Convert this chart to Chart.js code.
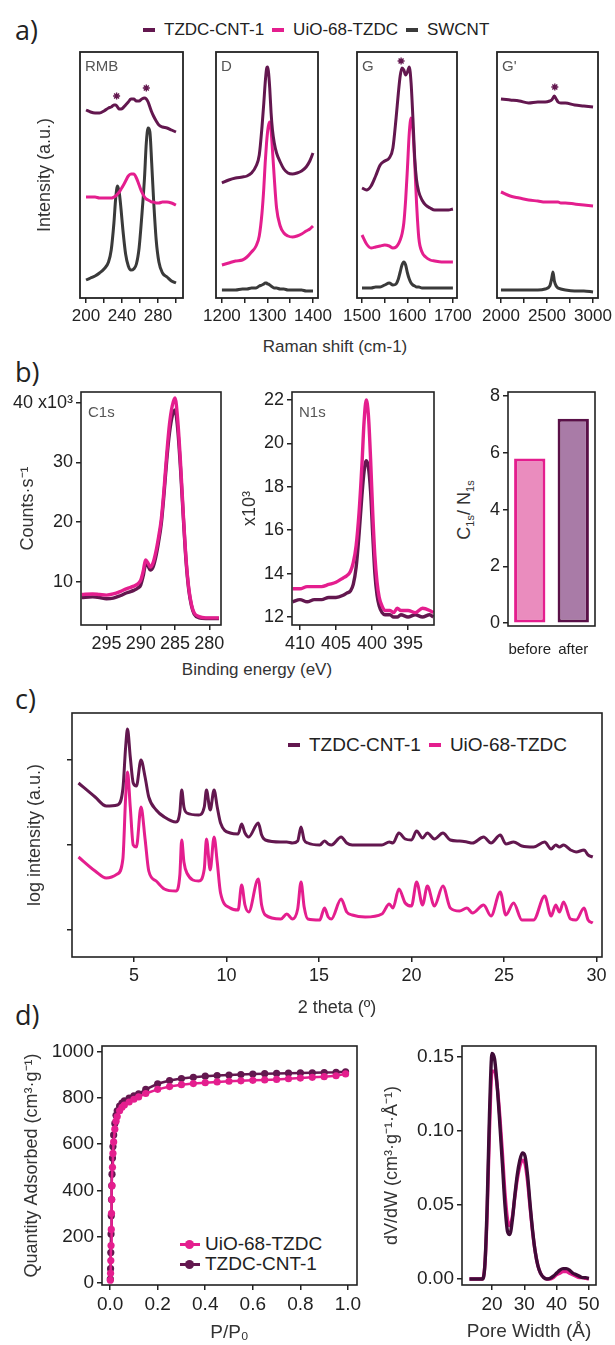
<!DOCTYPE html>
<html>
<head>
<meta charset="utf-8">
<script src="https://cdn.jsdelivr.net/npm/chart.js@4.4.1/dist/chart.umd.min.js"></script>
<style>
  html, body { margin: 0; padding: 0; background: #fff; }
  body { position: relative; width: 615px; height: 1345px; overflow: hidden;
         font-family: 'Liberation Sans', Arial, sans-serif; color: #222; }
  canvas { position: absolute; }
  .panel { position: absolute; left: 15px; font: 27px/1 'Open Sans', sans-serif; color: #222; }
  .txt { position: absolute; white-space: nowrap; transform: translate(-50%, -50%); color: #333; }
  .rot { transform: translate(-50%, -50%) rotate(-90deg); }
  .legend { position: absolute; display: flex; align-items: center; white-space: nowrap; color: #222; }
  .sw { display: inline-block; width: 12px; height: 4px; margin-right: 9px; }
  .item { margin-right: 8px; }
  .row { position: absolute; display: flex; align-items: center; white-space: nowrap; font-size: 19px; }
  .ln { position: relative; width: 20px; height: 3px; margin-right: 5px; }
  .ln i { position: absolute; left: 5px; top: -3px; width: 9px; height: 9px; border-radius: 50%; background: inherit; }
  sub { font-size: 11px; }
</style>
</head>
<body>
<div class="panel" style="top:16px">a)</div>
<div class="panel" style="top:358px">b)</div>
<div class="panel" style="top:685px">c)</div>
<div class="panel" style="top:1001px">d)</div>

<div class="legend" style="left:143px; top:20px; font-size:17px; line-height:20px">
  <span class="sw" style="background:#63174f"></span><span class="item">TZDC-CNT-1</span>
  <span class="sw" style="background:#e41e8e"></span><span class="item">UiO-68-TZDC</span>
  <span class="sw" style="background:#3a3a3a"></span><span>SWCNT</span>
</div>
<div class="txt" style="left:335px; top:347px; font-size:17px">Raman shift (cm-1)</div>
<div class="txt" style="left:257px; top:670px; font-size:17px">Binding energy (eV)</div>
<div class="txt rot" style="left:465px; top:510px; font-size:18px">C<sub>1s</sub>/ N<sub>1s</sub></div>
<div class="legend" style="left:288px; top:735px; font-size:19px; line-height:20px">
  <span class="sw" style="background:#63174f"></span><span class="item">TZDC-CNT-1</span>
  <span class="sw" style="background:#e41e8e"></span><span>UiO-68-TZDC</span>
</div>
<div class="row" style="left:180px; top:1233px"><span class="ln" style="background:#e41e8e"><i></i></span>UiO-68-TZDC</div>
<div class="row" style="left:180px; top:1253px"><span class="ln" style="background:#63174f"><i></i></span>TZDC-CNT-1</div>

<canvas id="cRMB"></canvas>
<canvas id="cD"></canvas>
<canvas id="cG"></canvas>
<canvas id="cGp"></canvas>
<canvas id="cC1s"></canvas>
<canvas id="cN1s"></canvas>
<canvas id="cBar"></canvas>
<canvas id="cXRD"></canvas>
<canvas id="cIso"></canvas>
<canvas id="cPore"></canvas>

<script>
// ── a) Raman (offset intensities, a.u.) ───────────────
const rmbShift  = [200, 205, 210, 215, 220, 225, 228, 231, 233, 235, 237, 239, 241, 244, 247, 250, 253, 256, 259, 262, 265, 267, 269, 271, 273, 275, 278, 281, 285, 290, 295, 300];
const rmbTZDC   = [188, 186, 185, 185, 187, 190, 191, 193, 193, 191, 189, 189, 190, 193, 196, 199, 199, 197, 197, 199, 200, 199, 196, 191, 186, 182, 177, 173, 171, 170, 168, 166];
const rmbUiO    = [101, 101, 101, 100, 100, 100, 100, 101, 102, 104, 106, 109, 112, 117, 122, 124, 124, 120, 113, 106, 101, 99, 98, 97, 96, 96, 95, 95, 96, 96, 95, 93];
const rmbSWCNT  = [18, 20, 22, 25, 29, 36, 48, 75, 100, 112, 105, 88, 68, 44, 32, 28, 29, 34, 50, 82, 120, 155, 170, 166, 135, 100, 58, 36, 25, 21, 17, 15];
const rmbStarX  = [234, 267];
const rmbStarY  = [202, 210];

const dShift    = [1200, 1215, 1230, 1245, 1255, 1265, 1275, 1282, 1288, 1292, 1295, 1298, 1300, 1302, 1305, 1308, 1311, 1315, 1320, 1328, 1336, 1345, 1355, 1365, 1375, 1385, 1393, 1400];
const dTZDC     = [115, 118, 120, 121, 122, 125, 132, 143, 171, 195, 215, 229, 231, 227, 210, 185, 168, 155, 145, 136, 129, 125, 124, 125, 127, 131, 137, 145];
const dUiO      = [33, 35, 37, 38, 41, 46, 52, 62, 85, 110, 135, 155, 165, 172, 176, 168, 148, 120, 90, 72, 65, 62, 61, 62, 64, 67, 69, 72];
const dSWCNT    = [8, 8, 8, 9, 9, 10, 10, 12, 13, 14, 15, 15, 14, 14, 13, 12, 11, 10, 10, 9, 9, 8, 8, 8, 8, 7, 7, 7];

const gShift    = [1500, 1510, 1520, 1530, 1540, 1550, 1560, 1568, 1575, 1580, 1584, 1588, 1592, 1596, 1600, 1604, 1608, 1612, 1616, 1620, 1625, 1632, 1640, 1650, 1660, 1675, 1690, 1700];
const gTZDC     = [110, 108, 112, 122, 133, 137, 140, 150, 180, 205, 222, 230, 228, 223, 226, 231, 215, 180, 140, 118, 106, 98, 93, 90, 88, 88, 88, 89];
const gUiO      = [63, 54, 50, 51, 52, 53, 52, 50, 51, 54, 58, 64, 75, 98, 130, 165, 180, 168, 135, 95, 60, 46, 41, 38, 37, 36, 36, 36];
const gSWCNT    = [10, 10, 10, 11, 11, 13, 15, 13, 14, 19, 26, 33, 36, 33, 25, 19, 15, 13, 12, 11, 11, 10, 10, 10, 10, 10, 10, 10];
const gStarX    = [1586];
const gStarY    = [237];

const gpShift   = [2000, 2100, 2200, 2300, 2400, 2480, 2530, 2550, 2565, 2580, 2600, 2620, 2650, 2700, 2800, 2900, 3000];
const gpTZDC    = [199, 198, 197, 195, 196, 196, 197, 198, 200, 202, 199, 196, 195, 195, 193, 192, 191];
const gpUiO     = [106, 102, 100, 98, 97, 96, 96, 96, 96, 96, 96, 96, 95, 95, 94, 93, 92];
const gpSWCNT   = [8, 8, 8, 8, 8, 9, 12, 19, 26, 17, 12, 10, 9, 8, 7, 7, 6];
const gpStarX   = [2585];
const gpStarY   = [211];

const rmbTicks = [200, 220, 240, 260, 280, 300],        rmbLabels = [200, 240, 280];
const dTicks   = [1200, 1250, 1300, 1350, 1400],        dLabels   = [1200, 1300, 1400];
const gTicks   = [1500, 1550, 1600, 1650, 1700],        gLabels   = [1500, 1600, 1700];
const gpTicks  = [2000, 2250, 2500, 2750, 3000],        gpLabels  = [2000, 2500, 3000];

// ── b) XPS (counts x10^3) and C/N ratio ───────────────
const c1sEnergy = [298.6, 297, 296, 295, 294, 293, 292, 291, 290.4, 290, 289.6, 289.3, 289, 288.6, 288.2, 287.8, 287.4, 287, 286.6, 286.2, 285.8, 285.4, 285, 284.6, 284.2, 283.8, 283.4, 283, 282.6, 282.2, 281.5, 280.5, 279.5, 278.6];
const c1sUiO    = [7.9, 8.0, 7.9, 7.8, 8.0, 8.4, 8.9, 9.3, 9.7, 10.3, 12.0, 13.7, 13.3, 12.5, 13.2, 15.0, 17.5, 20.5, 25.5, 31.5, 36.5, 39.5, 40.8, 37.0, 30.0, 21.5, 14.0, 9.0, 6.2, 4.8, 4.2, 4.0, 4.0, 4.0];
const c1sTZDC   = [7.4, 7.5, 7.4, 7.2, 7.3, 7.7, 8.2, 8.6, 9.0, 9.5, 11.2, 12.9, 12.8, 12.0, 12.5, 14.2, 16.7, 19.8, 24.8, 30.5, 35.0, 37.8, 38.8, 35.5, 29.0, 21.0, 13.6, 8.7, 6.0, 4.6, 4.0, 3.9, 3.9, 3.9];

const n1sEnergy = [411, 410, 409, 408, 407, 406, 405, 404, 403.5, 403, 402.6, 402.2, 401.8, 401.4, 401.1, 400.8, 400.5, 400.2, 399.9, 399.6, 399.3, 399, 398.6, 398.2, 397.5, 397, 396.5, 396, 395, 394, 393, 392, 391.5];
const n1sUiO    = [13.3, 13.3, 13.4, 13.4, 13.4, 13.5, 13.6, 13.8, 13.9, 14.1, 14.5, 15.3, 16.8, 19.0, 21.0, 22.0, 21.3, 19.3, 16.8, 14.8, 13.6, 12.9, 12.5, 12.3, 12.3, 12.2, 12.4, 12.3, 12.3, 12.2, 12.4, 12.3, 12.2];
const n1sTZDC   = [12.7, 12.8, 12.7, 12.8, 12.8, 12.9, 12.9, 13.0, 13.1, 13.2, 13.5, 14.3, 15.8, 17.6, 18.7, 19.2, 18.9, 17.8, 15.8, 14.0, 13.0, 12.5, 12.2, 12.1, 12.1, 12.0, 12.0, 12.1, 12.0, 12.1, 12.0, 12.1, 12.0];

const ratioLabels = ['before', 'after'];
const ratioValues = [5.8, 7.2];

// ── c) PXRD (log intensity, a.u.) ─────────────────────
const xrdTheta = [2.0, 2.9, 3.5, 4.1, 4.4, 4.55, 4.65, 4.8, 4.96, 5.13, 5.38, 5.6, 5.8, 6.2, 6.64, 7.27, 7.48, 7.58, 7.7, 7.86, 8.5, 8.8, 8.92, 9.12, 9.33, 9.5, 9.68, 10.2, 10.63, 10.82, 11.0, 11.2, 11.72, 11.9, 12.1, 12.94, 13.26, 13.57, 13.85, 14.03, 14.2, 14.4, 15.04, 15.3, 15.5, 15.67, 16.2, 16.5, 16.8, 17.5, 18.4, 18.8, 19.0, 19.32, 19.66, 20.0, 20.28, 20.6, 20.86, 21.24, 21.7, 22.1, 22.6, 23.0, 23.3, 23.9, 24.3, 24.8, 25.1, 25.52, 25.97, 26.6, 27.2, 27.55, 27.8, 28.0, 28.22, 28.6, 28.9, 29.33, 29.55, 29.8];
const xrdTZDC  = [174, 160, 151, 152, 168, 210, 228, 200, 174, 171, 197, 180, 160, 147, 140, 135, 145, 167, 150, 144, 142, 150, 167, 147, 167, 150, 134, 124, 123, 133, 124, 120, 134, 122, 117, 115, 115, 114, 116, 130, 117, 114, 112, 116, 113, 112, 120, 114, 112, 112, 112, 115, 114, 124, 118, 117, 126, 119, 124, 118, 124, 117, 116, 115, 114, 120, 114, 122, 113, 115, 111, 110, 115, 108, 112, 110, 112, 107, 105, 107, 102, 100];
const xrdUiO   = [100, 86, 79, 83, 98, 160, 185, 150, 112, 110, 150, 118, 86, 76, 68, 66, 82, 117, 95, 84, 76, 88, 118, 87, 120, 95, 64, 49, 47, 72, 52, 45, 78, 52, 42, 38, 43, 38, 48, 75, 50, 38, 37, 49, 40, 38, 58, 45, 42, 40, 43, 53, 49, 68, 54, 51, 75, 52, 71, 51, 71, 49, 46, 49, 44, 52, 41, 65, 42, 54, 37, 37, 61, 41, 52, 45, 55, 38, 37, 49, 37, 34];
const xrdXTicks = [5, 10, 15, 20, 25, 30];
const xrdYTicks = [27, 112, 197];

// ── d) N2 isotherm and pore size distribution ─────────
const isoP     = [0.001, 0.002, 0.003, 0.004, 0.005, 0.006, 0.007, 0.008, 0.010, 0.012, 0.015, 0.020, 0.025, 0.030, 0.040, 0.050, 0.060, 0.080, 0.100, 0.120, 0.150, 0.200, 0.250, 0.300, 0.350, 0.400, 0.450, 0.500, 0.550, 0.600, 0.650, 0.700, 0.750, 0.800, 0.850, 0.900, 0.950, 0.990];
const isoUiO   = [10, 40, 95, 160, 230, 300, 360, 420, 500, 560, 610, 665, 700, 720, 745, 760, 770, 783, 795, 805, 820, 838, 850, 858, 863, 867, 870, 873, 875, 877, 879, 881, 884, 887, 890, 893, 897, 905];
const isoTZDC  = [15, 60, 130, 210, 290, 360, 420, 470, 540, 590, 640, 690, 725, 745, 765, 778, 788, 800, 810, 818, 838, 862, 876, 885, 890, 895, 898, 900, 902, 904, 906, 907, 908, 909, 910, 911, 912, 914];
const isoXTicks = [0, 0.2, 0.4, 0.6, 0.8, 1.0];
const isoYTicks = [0, 200, 400, 600, 800, 1000];

const poreWidth = [13, 15, 17, 17.8, 18.5, 19.2, 20, 20.8, 21.6, 22.4, 23.2, 24, 24.8, 25.5, 26.3, 27, 27.8, 28.6, 29.4, 30.2, 31, 31.8, 32.6, 33.4, 34.2, 35, 36, 37, 38, 39, 40, 41, 42, 43, 44, 45, 46, 47, 48, 49, 50];
const poreTZDC  = [0, 0, 0, 0.01, 0.05, 0.11, 0.152, 0.148, 0.13, 0.105, 0.078, 0.05, 0.032, 0.03, 0.04, 0.055, 0.07, 0.08, 0.085, 0.083, 0.07, 0.05, 0.032, 0.018, 0.009, 0.004, 0.001, 0, 0.0005, 0.002, 0.004, 0.006, 0.007, 0.007, 0.006, 0.004, 0.003, 0.002, 0.001, 0.001, 0.0005];
const poreUiO   = [0, 0, 0, 0.01, 0.045, 0.1, 0.14, 0.14, 0.13, 0.11, 0.085, 0.058, 0.04, 0.036, 0.042, 0.054, 0.067, 0.076, 0.08, 0.078, 0.066, 0.048, 0.031, 0.018, 0.009, 0.004, 0.001, 0, 0, 0.001, 0.003, 0.004, 0.005, 0.005, 0.004, 0.003, 0.002, 0.001, 0.001, 0.0005, 0];
const poreXTicks = [20, 30, 40, 50];
const poreYTicks = [0, 0.05, 0.10, 0.15];

// ── styling ────────────────────────────────────────────
const INK = '#222';
const C_TZDC = '#63174f';
const C_UIO = '#e41e8e';
const C_SWCNT = '#3a3a3a';
const C_TZDC_DARK = '#3f0b37';

Chart.defaults.font.family = "'Liberation Sans', Arial, sans-serif";
Chart.defaults.color = INK;

const framePlugin = {
  id: 'frame',
  afterDraw(chart, args, opts) {
    const { ctx, chartArea: a } = chart;
    ctx.save();
    ctx.strokeStyle = INK;
    ctx.lineWidth = opts.width || 1.6;
    ctx.strokeRect(a.left, a.top, a.right - a.left, a.bottom - a.top);
    ctx.restore();
  }
};
const tagPlugin = {
  id: 'tag',
  afterDraw(chart, args, opts) {
    if (!opts.text) return;
    const { ctx, chartArea: a } = chart;
    ctx.save();
    ctx.font = `${opts.size || 15}px 'Liberation Sans', Arial, sans-serif`;
    ctx.fillStyle = '#555';
    ctx.textBaseline = 'top';
    ctx.fillText(opts.text, a.left + (opts.dx ?? 5), a.top + (opts.dy ?? 6));
    ctx.restore();
  }
};
Chart.register(framePlugin, tagPlugin);

function series(xs, ys, color, width) {
  return {
    data: xs.map((x, i) => ({ x, y: ys[i] })),
    borderColor: color, backgroundColor: color, borderWidth: width || 3,
    pointRadius: 0, cubicInterpolationMode: 'monotone', fill: false
  };
}
function stars(xs, ys) {
  return {
    data: xs.map((x, i) => ({ x, y: ys[i] })),
    showLine: false, pointStyle: 'star', pointRadius: 3.5,
    borderColor: C_TZDC, borderWidth: 1.4
  };
}
function title(text, pad, size) {
  return { display: true, text, color: '#333', font: { size: size || 18 }, padding: { top: pad, bottom: pad } };
}
function linAxis(min, max, ticks, o = {}) {
  return {
    type: 'linear', min, max, reverse: !!o.reverse,
    afterBuildTicks: s => { s.ticks = ticks.map(v => ({ value: v })); },
    ticks: {
      display: o.labels !== false, autoSkip: false, maxRotation: 0, padding: 3,
      font: { size: o.size || 18 }, color: INK,
      callback: o.fmt || (v => String(v))
    },
    grid: { drawOnChartArea: false, tickLength: 5, color: INK, lineWidth: 1.5 },
    border: { display: false },
    title: o.title || { display: false }
  };
}

// cv = canvas [l, t, r, b], box = plot area [l, t, r, b], page pixels
function makeChart(id, cv, box, config) {
  const el = document.getElementById(id);
  el.width = cv[2] - cv[0];
  el.height = cv[3] - cv[1];
  el.style.left = cv[0] + 'px';
  el.style.top = cv[1] + 'px';
  const o = config.options;
  o.responsive = false;
  o.animation = false;
  o.devicePixelRatio = 1;
  o.layout = { padding: { left: 0, right: cv[2] - box[2], top: box[1] - cv[1], bottom: 0 } };
  o.scales.x.afterFit = s => { s.height = cv[3] - box[3]; };
  o.scales.y.afterFit = s => { s.width = box[0] - cv[0]; };
  o.plugins = Object.assign({ legend: { display: false }, tooltip: { enabled: false } }, o.plugins || {});
  return new Chart(el, config);
}

// ── a) Raman panels ───────────────────────────────────
function ramanChart(id, cv, box, shift, tz, uio, sw, sx, sy, xmin, xmax, ticks, labels, tag, yTitle) {
  const datasets = [];
  if (sx) datasets.push(stars(sx, sy));
  datasets.push(series(shift, tz, C_TZDC), series(shift, uio, C_UIO), series(shift, sw, C_SWCNT));
  makeChart(id, cv, box, {
    type: 'line',
    data: { datasets },
    options: {
      scales: {
        x: linAxis(xmin, xmax, ticks, { size: 17, fmt: v => labels.includes(v) ? String(v) : '' }),
        y: { type: 'linear', min: 0, max: 246, ticks: { display: false }, grid: { display: false },
             border: { display: false }, title: yTitle || { display: false } }
      },
      plugins: { frame: { width: 1.8 }, tag: { text: tag, size: 15, dx: 5, dy: 7 } }
    }
  });
}
ramanChart('cRMB', [28, 40, 200, 345], [80, 52, 183, 298], rmbShift, rmbTZDC, rmbUiO, rmbSWCNT,
  rmbStarX, rmbStarY, 193.3, 307.8, rmbTicks, rmbLabels, 'RMB', title('Intensity (a.u.)', 6));
ramanChart('cD', [195, 40, 338, 345], [216, 52, 318, 298], dShift, dTZDC, dUiO, dSWCNT,
  null, null, 1187, 1411, dTicks, dLabels, 'D');
ramanChart('cG', [336, 40, 478, 345], [357, 52, 457, 298], gShift, gTZDC, gUiO, gSWCNT,
  gStarX, gStarY, 1489, 1709, gTicks, gLabels, 'G');
ramanChart('cGp', [476, 40, 620, 345], [497, 52, 598, 298], gpShift, gpTZDC, gpUiO, gpSWCNT,
  gpStarX, gpStarY, 1957, 3054, gpTicks, gpLabels, "G'");

// ── b) XPS ─────────────────────────────────────────────
makeChart('cC1s', [8, 375, 240, 660], [81, 392, 221, 625], {
  type: 'line',
  data: { datasets: [series(c1sEnergy, c1sUiO, C_UIO, 3.4), series(c1sEnergy, c1sTZDC, C_TZDC, 3.4)] },
  options: {
    scales: {
      x: linAxis(278.3, 298.7, [295, 290, 285, 280], { reverse: true }),
      y: linAxis(2.8, 41.8, [10, 20, 30, 40], { fmt: v => v === 40 ? '40 x10³' : String(v), title: title('Counts·s⁻¹', 9) })
    },
    plugins: { tag: { text: 'C1s', size: 15, dx: 7, dy: 13 } }
  }
});
makeChart('cN1s', [232, 375, 450, 660], [292, 392, 434, 625], {
  type: 'line',
  data: { datasets: [series(n1sEnergy, n1sUiO, C_UIO, 3.4), series(n1sEnergy, n1sTZDC, C_TZDC, 3.4)] },
  options: {
    scales: {
      x: linAxis(391.4, 411.1, [410, 405, 400, 395], { reverse: true }),
      y: linAxis(11.63, 22.37, [12, 14, 16, 18, 20, 22], { title: title('x10³', 7) })
    },
    plugins: { tag: { text: 'N1s', size: 15, dx: 7, dy: 13 } }
  }
});
makeChart('cBar', [440, 375, 615, 660], [508, 392, 595, 626], {
  type: 'bar',
  data: {
    labels: ratioLabels,
    datasets: [{
      data: ratioValues,
      backgroundColor: ['#ea8cbe', '#a97ba7'],
      borderColor: [C_UIO, '#5a1048'],
      borderWidth: 3, borderSkipped: false,
      barPercentage: 0.72, categoryPercentage: 1
    }]
  },
  options: {
    scales: {
      x: { type: 'category', offset: true,
           ticks: { font: { size: 15 }, color: INK, padding: 7, maxRotation: 0, minRotation: 0, autoSkip: false },
           grid: { display: false }, border: { display: false } },
      y: linAxis(-0.1, 8.14, [0, 2, 4, 6, 8])
    }
  }
});

// ── c) PXRD ────────────────────────────────────────────
makeChart('cXRD', [10, 700, 615, 1025], [72, 713, 602, 957], {
  type: 'line',
  data: { datasets: [series(xrdTheta, xrdTZDC, C_TZDC, 3), series(xrdTheta, xrdUiO, C_UIO, 3)] },
  options: {
    scales: {
      x: linAxis(1.65, 30.3, xrdXTicks, { title: title('2 theta (º)', 6) }),
      y: linAxis(0, 244, xrdYTicks, { labels: false, title: title('log intensity (a.u.)', 14) })
    }
  }
});

// ── d) isotherm + PSD ──────────────────────────────────
const isoSet = (ys, c) => ({
  data: isoP.map((x, i) => ({ x, y: ys[i] })),
  borderColor: c, backgroundColor: c, borderWidth: 2.5,
  pointRadius: 3.6, pointBorderWidth: 0, tension: 0
});
makeChart('cIso', [12, 1030, 372, 1345], [102, 1046, 357, 1285], {
  type: 'line',
  data: { datasets: [isoSet(isoUiO, C_UIO), isoSet(isoTZDC, C_TZDC)] },
  options: {
    scales: {
      x: linAxis(-0.034, 1.038, isoXTicks, { size: 19, fmt: v => v.toFixed(1), title: title('P/P₀', 1, 19) }),
      y: linAxis(-11, 1026, isoYTicks, { size: 19, title: title('Quantity Adsorbed (cm³·g⁻¹)', 9) })
    }
  }
});
makeChart('cPore', [372, 1030, 615, 1345], [462, 1046, 596, 1285], {
  type: 'line',
  data: { datasets: [series(poreWidth, poreTZDC, C_TZDC_DARK, 3.4), series(poreWidth, poreUiO, C_UIO, 3.4)] },
  options: {
    scales: {
      x: linAxis(10.7, 52.2, poreXTicks, { size: 19, title: title('Pore Width (Å)', 2, 19) }),
      y: linAxis(-0.004, 0.157, poreYTicks, { size: 19, fmt: v => v.toFixed(2), title: title('dV/dW (cm³·g⁻¹·Å⁻¹)', 9) })
    }
  }
});
</script>
</body>
</html>
